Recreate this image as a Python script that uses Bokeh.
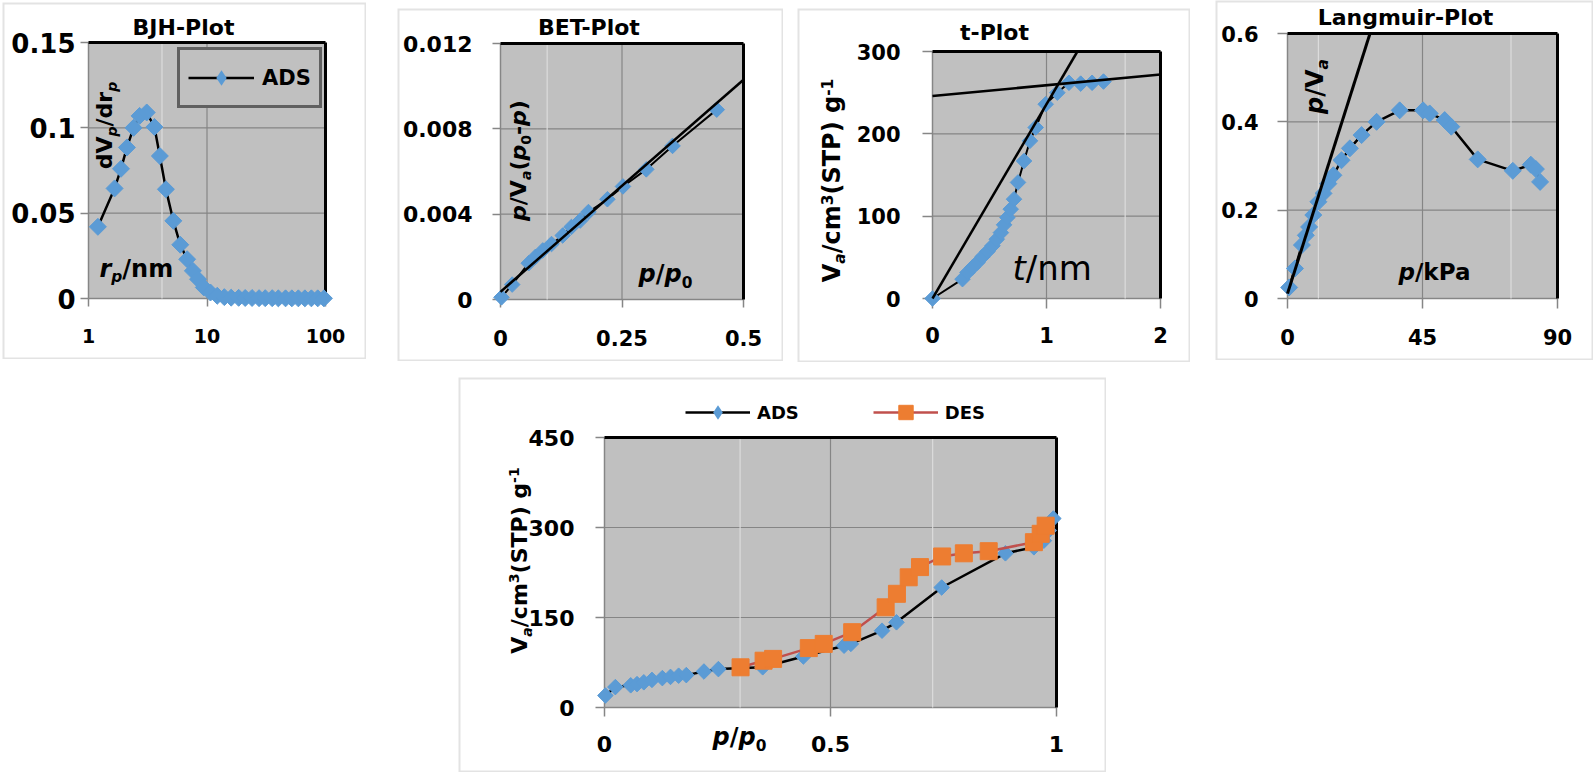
import math
from bokeh.plotting import figure
from bokeh.models import (Range1d, FixedTicker, CustomJSTickFormatter, Label, Arrow,
                          BoxAnnotation, Legend, LegendItem, Spacer)
from bokeh.layouts import row, column
from bokeh.embed import file_html
from bokeh.resources import INLINE

# ---------------- data ----------------
# BJH pore size distribution (ADS)
bjh_r = [1.2, 1.66, 1.88, 2.11, 2.4, 2.7, 3.1, 3.6, 4.0, 4.5, 5.2, 5.95, 6.8, 7.6, 8.4, 9.4,
         10.7, 12.2, 14, 16, 18.5, 21, 24, 27.5, 31, 35.5, 40, 46, 52, 59, 67, 76, 86, 97]
bjh_dv = [0.042, 0.0645, 0.076, 0.0885, 0.1, 0.107, 0.109, 0.1005, 0.0835, 0.064, 0.0455,
          0.0315, 0.023, 0.0162, 0.0113, 0.0065, 0.0035, 0.0016, 0.0008, 0.0005, 0.0004,
          0.0003, 0.0003, 0.0002, 0.0002, 0.0002, 0.0001, 0.0001, 0.0001, 0.0001, 0.0001,
          0.0001, 0.0001, 0.0001]

# BET plot
bet_x = [0.002, 0.024, 0.058, 0.072, 0.087, 0.105, 0.128, 0.146, 0.164, 0.181, 0.22, 0.252,
         0.30, 0.354, 0.445]
bet_y = [0.0001, 0.0007, 0.0017, 0.0020, 0.0023, 0.0026, 0.0030, 0.0034, 0.0037, 0.0041,
         0.0047, 0.0053, 0.0061, 0.0072, 0.0089]
bet_fit_x = [0.0, 0.5]
bet_fit_y = [0.00036, 0.0103]

# t-plot
t_t = [0.0, 0.263, 0.307, 0.35, 0.394, 0.438, 0.482, 0.526, 0.564, 0.6, 0.628, 0.657, 0.686,
       0.715, 0.75, 0.803, 0.855, 0.905, 0.993, 1.095, 1.197, 1.3, 1.4, 1.5]
t_v = [0, 23.5, 31.6, 37.7, 43.7, 50.6, 57, 64, 72, 80, 89.5, 98.4, 108.5, 120.6, 141, 167,
       191.5, 207.7, 236, 250, 262, 261, 262, 263.5]
t_fit1_x = [0.0, 1.271]
t_fit1_y = [0.0, 300.0]
t_fit2_x = [0.0, 2.0]
t_fit2_y = [246.0, 272.0]

# Langmuir plot
lang_p = [0.55, 2.5, 4.8, 6.1, 7.2, 8.6, 10.3, 12.0, 13.6, 15.3, 18.0, 20.8, 24.7, 29.7,
          37.4, 45.2, 47.4, 52.4, 54.6, 63.4, 75.1, 81.1, 82.8, 84.2]
lang_y = [0.025, 0.068, 0.121, 0.143, 0.162, 0.189, 0.219, 0.238, 0.26, 0.279, 0.313, 0.34,
          0.37, 0.4, 0.426, 0.426, 0.419, 0.404, 0.389, 0.315, 0.289, 0.303, 0.293, 0.264]
lang_fit_x = [0.0, 27.5]
lang_fit_y = [0.011, 0.6]

# Isotherm
ads_x = [0.002, 0.024, 0.058, 0.072, 0.087, 0.105, 0.128, 0.146, 0.164, 0.181, 0.22, 0.252,
         0.35, 0.44, 0.53, 0.545, 0.614, 0.646, 0.746, 0.887, 0.95, 0.972, 0.983, 0.993]
ads_y = [20, 34, 37, 39, 42, 46, 49, 51, 53, 54, 60, 64, 67, 85, 103, 106, 128, 142, 200,
         257, 267, 278, 295, 315]
des_x = [0.301, 0.352, 0.373, 0.452, 0.485, 0.548, 0.622, 0.647, 0.673, 0.698, 0.747, 0.795,
         0.85, 0.95, 0.965, 0.976]
des_y = [67, 78, 81, 99, 106, 125.5, 167, 189.5, 217, 234, 251.7, 257, 260.5, 275.5, 289.5,
         303]

# ---------------- style ----------------
FONT = "DejaVu Sans"
BG = "#c0c0c0"
GRID = "#858585"
AXIS = "#868686"
LIGHT = "#dcdcdc"
BLUE = "#5b9bd5"
ORANGE = "#ed7d31"
RED = "#c0504d"
PANEL_LINE = "#a3a3a3"
BASE_CORR = 0.38   # baseline correction (fraction of font size)

WB = {' ': 0.348, '.': 0.380, '/': 0.365, '(': 0.457, ')': 0.457, '-': 0.415,
      'A': 0.774, 'B': 0.762, 'D': 0.830, 'E': 0.683, 'H': 0.837, 'J': 0.372, 'L': 0.637,
      'P': 0.733, 'S': 0.720, 'T': 0.682, 'V': 0.774, 'a': 0.675, 'c': 0.593, 'd': 0.716,
      'g': 0.716, 'i': 0.343, 'k': 0.665, 'l': 0.343, 'm': 1.042, 'n': 0.712, 'o': 0.687,
      'p': 0.716, 'r': 0.493, 't': 0.478, 'u': 0.712}
for _d in "0123456789":
    WB[_d] = 0.696
WN = {'t': 0.392, '/': 0.337, 'n': 0.634, 'm': 0.974}


class Panel:
    """A figure whose frame fills the whole canvas; the plot area is a sub-rectangle."""

    def __init__(self, origin, w, h, area, xr, yr, xlog=False):
        self.ox, self.oy = origin
        self.w, self.h = w, h
        L, T, R, B = area
        self.xr, self.yr, self.xlog = xr, yr, xlog
        fx = (lambda v: math.log10(v)) if xlog else (lambda v: v)
        ix = (lambda v: 10 ** v) if xlog else (lambda v: v)
        a0, a1 = fx(xr[0]), fx(xr[1])
        ppx = (a1 - a0) / (R - L)
        self.fx0, self.fx1 = a0 - L * ppx, a1 + (w - R) * ppx
        ppy = (yr[1] - yr[0]) / (B - T)
        self.fy0, self.fy1 = yr[0] - (h - B) * ppy, yr[1] + T * ppy
        self.ix = ix
        self.p = figure(width=w, height=h, x_range=Range1d(ix(self.fx0), ix(self.fx1)),
                        y_range=Range1d(self.fy0, self.fy1),
                        x_axis_type="log" if xlog else "linear", output_backend="svg",
                        toolbar_location=None, title=None, min_border=0, min_border_left=0,
                        min_border_right=0, min_border_top=0, min_border_bottom=0,
                        background_fill_color="white", border_fill_color="white",
                        outline_line_color=None)
        self.p.xgrid.visible = False
        self.p.ygrid.visible = False
        # gray plot area
        self.p.add_layout(BoxAnnotation(left=xr[0], right=xr[1], bottom=yr[0], top=yr[1],
                                        fill_color=BG, fill_alpha=1, line_color=None,
                                        level="image"))
        # outer chart frame
        self.p.add_layout(BoxAnnotation(left=ix(self.fx0), right=ix(self.fx1),
                                        bottom=self.fy0, top=self.fy1, fill_alpha=0,
                                        line_color=PANEL_LINE, line_width=4,
                                        level="overlay"))

    def to_data(self, px, py):
        cx, cy = px - self.ox, py - self.oy
        x = self.fx0 + cx / self.w * (self.fx1 - self.fx0)
        y = self.fy1 - cy / self.h * (self.fy1 - self.fy0)
        return self.ix(x), y

    def seg(self, x0, y0, x1, y1, color, width, level="underlay"):
        self.p.add_layout(Arrow(end=None, x_start=x0, y_start=y0, x_end=x1, y_end=y1,
                                line_color=color, line_width=width, level=level))

    def axes(self, xt, yt, xfs, yfs, xso, yso, xto=8, yto=8, light=()):
        x0, x1 = self.xr
        y0, y1 = self.yr
        for t in xt:
            if t not in (x0, x1):
                self.seg(t, y0, t, y1, GRID, 1.2)
        for t in yt:
            if t not in (y0, y1):
                self.seg(x0, t, x1, t, GRID, 1.2)
        for t in light:
            self.seg(t, y0, t, y1, LIGHT, 1.2)
        self.seg(x0, y1, x1, y1, "black", 3)
        self.seg(x1, y0, x1, y1, "black", 3)
        xa, ya = self.p.xaxis[0], self.p.yaxis[0]
        xa.fixed_location = y0
        xa.bounds = (x0, x1)
        ya.fixed_location = x0
        ya.bounds = (y0, y1)
        for ax, ticks, fs, so, to in ((xa, xt, xfs, xso, xto), (ya, yt, yfs, yso, yto)):
            ax.ticker = FixedTicker(ticks=ticks)
            ax.formatter = CustomJSTickFormatter(code="return tick.toString();")
            ax.level = "underlay"
            ax.axis_line_color = AXIS
            ax.axis_line_width = 1.5
            ax.major_tick_line_color = AXIS
            ax.major_tick_line_width = 1.5
            ax.major_tick_in = 0
            ax.major_tick_out = to
            ax.minor_tick_line_color = None
            ax.major_label_text_font = FONT
            ax.major_label_text_font_style = "bold"
            ax.major_label_text_font_size = f"{fs}px"
            ax.major_label_text_color = "black"
            ax.major_label_standoff = so

    def rich(self, segs, px, py, size, angle=0.0, anchor="start", weight="bold"):
        wtab = WB if weight == "bold" else WN
        items = []
        total = 0.0
        for t, it, kind in segs:
            fs = size * 0.64 if kind in ("sub", "sup") else size
            wd = sum(wtab.get(c, 0.6) for c in t) * fs
            items.append((t, it, kind, fs, wd))
            total += wd
        u = -total / 2 if anchor == "center" else 0.0
        for t, it, kind, fs, wd in items:
            shift = 0.2 * size if kind == "sub" else (-0.38 * size if kind == "sup" else 0.0)
            shift -= BASE_CORR * fs
            if angle == 0:
                qx, qy = px + u, py + shift
            else:
                qx, qy = px + shift, py - u
            x, y = self.to_data(qx, qy)
            style = ("bold " if weight == "bold" else "") + ("italic" if it else "")
            style = style.strip() or "normal"
            self.p.add_layout(Label(x=x, y=y, text=t, text_font=FONT,
                                    text_font_size=f"{fs:.1f}px", text_font_style=style,
                                    text_align="left", text_baseline="alphabetic",
                                    angle=angle, text_color="black"))
            u += wd

    def title(self, text, cx, by):
        self.rich([(text, False, "n")], cx, by, 22, anchor="center")

    def diamonds(self, x, y, size):
        # legend proxy (hidden beneath the rotated squares)
        d = self.p.scatter(x, y, marker="diamond", size=size * 1.3, fill_color=BLUE,
                           line_color=None)
        self.p.scatter(x, y, marker="square", angle=math.pi / 4, size=size,
                       fill_color=BLUE, line_color=BLUE)
        return d


# ---------------- BJH ----------------
P1 = Panel((2, 2), 364, 357, (86, 40, 323, 296), (1, 100), (0, 0.15), xlog=True)
P1.axes([1, 10, 100], [0, 0.05, 0.1, 0.15], 19, 26, 22, 5, light=[4.17])
l1 = P1.p.line(bjh_r, bjh_dv, line_color="black", line_width=2.5)
s1 = P1.diamonds(bjh_r, bjh_dv, 12)
P1.p.add_layout(Legend(items=[LegendItem(label="ADS", renderers=[l1, s1])],
                       location=(175, 251), border_line_color="black", border_line_width=3,
                       background_fill_color=BG, background_fill_alpha=1, padding=8, margin=0,
                       glyph_width=66, glyph_height=39, label_height=39, label_standoff=8,
                       spacing=0, label_text_font=FONT, label_text_font_style="bold",
                       label_text_font_size="21px", label_text_color="black"))
P1.title("BJH-Plot", 183, 35)
P1.rich([("dV", False, "n"), ("p", True, "sub"), ("/dr", False, "n"), ("p", True, "sub")],
        112, 125, 22, angle=math.pi / 2, anchor="center")
P1.rich([("r", True, "n"), ("p", True, "sub"), ("/nm", False, "n")], 99, 278, 24)

# ---------------- BET ----------------
P2 = Panel((397, 8), 386, 353, (103, 35, 346, 291), (0, 0.5), (0, 0.012))
P2.axes([0, 0.25, 0.5], [0, 0.004, 0.008, 0.012], 21, 22, 22, 20, light=[0.096])
P2.p.line(bet_x, bet_y, line_color="black", line_width=2)
P2.diamonds(bet_x, bet_y, 11)
P2.p.line(bet_fit_x, bet_fit_y, line_color="black", line_width=2.5)
P2.title("BET-Plot", 590, 35)
P2.rich([("p", True, "n"), ("/V", False, "n"), ("a", True, "sub"), ("(", False, "n"),
         ("p", True, "n"), ("0", False, "sub"), ("-", False, "n"), ("p", True, "n"),
         (")", False, "n")], 526, 160, 22, angle=math.pi / 2, anchor="center")
P2.rich([("p", True, "n"), ("/", False, "n"), ("p", True, "n"), ("0", False, "sub")],
        638, 283, 24)

# ---------------- t-plot ----------------
P3 = Panel((797, 8), 393, 354, (135, 43, 363, 290), (0, 2), (0, 300))
P3.axes([0, 1, 2], [0, 100, 200, 300], 21, 21, 18, 22, xto=10, yto=10, light=[1.69])
P3.p.line(t_t, t_v, line_color="black", line_width=2)
P3.diamonds(t_t, t_v, 11)
P3.p.line(t_fit1_x, t_fit1_y, line_color="black", line_width=2.5)
P3.p.line(t_fit2_x, t_fit2_y, line_color="black", line_width=2.5)
P3.title("t-Plot", 994, 40)
P3.rich([("V", False, "n"), ("a", True, "sub"), ("/cm", False, "n"), ("3", False, "sup"),
         ("(STP) g", False, "n"), ("-1", False, "sup")],
        841, 180, 24, angle=math.pi / 2, anchor="center")
P3.rich([("t", True, "n"), ("/nm", False, "n")], 1012, 280, 34, weight="normal")

# ---------------- Langmuir ----------------
P4 = Panel((1215, 0), 378, 360, (72, 33, 342, 298), (0, 90), (0, 0.6))
P4.axes([0, 45, 90], [0, 0.2, 0.4, 0.6], 21, 21, 20, 19, xto=10, yto=10, light=[10.3, 74.5])
P4.p.line(lang_p, lang_y, line_color="black", line_width=2.5)
P4.diamonds(lang_p, lang_y, 12)
P4.p.line(lang_fit_x, lang_fit_y, line_color="black", line_width=3)
P4.title("Langmuir-Plot", 1405, 25)
P4.rich([("p", True, "n"), ("/V", False, "n"), ("a", True, "sub")],
        1324, 86, 24, angle=math.pi / 2, anchor="center")
P4.rich([("p", True, "n"), ("/kPa", False, "n")], 1398, 280, 23)

# ---------------- Isotherm ----------------
P5 = Panel((458, 377), 648, 395, (146, 60, 598, 330), (0, 1), (0, 450))
P5.axes([0, 0.5, 1], [0, 150, 300, 450], 22, 22, 19, 21, xto=9, yto=9, light=[0.3, 0.726])
la = P5.p.line(ads_x, ads_y, line_color="black", line_width=2.5)
sa = P5.diamonds(ads_x, ads_y, 11)
ld = P5.p.line(des_x, des_y, line_color=RED, line_width=2.5)
sd = P5.p.scatter(des_x, des_y, marker="square", size=17, fill_color=ORANGE,
                  line_color=ORANGE)
P5.p.add_layout(Legend(items=[LegendItem(label="ADS", renderers=[la, sa]),
                              LegendItem(label="DES", renderers=[ld, sd])],
                       location=(227, 342), orientation="horizontal", border_line_color=None,
                       background_fill_alpha=0, padding=0, margin=0, glyph_width=65,
                       glyph_height=36, label_height=36, label_standoff=7, spacing=74,
                       label_text_font=FONT, label_text_font_style="bold",
                       label_text_font_size="18px", label_text_color="black"))
P5.rich([("V", False, "n"), ("a", True, "sub"), ("/cm", False, "n"), ("3", False, "sup"),
         ("(STP) g", False, "n"), ("-1", False, "sup")],
        527, 560, 22, angle=math.pi / 2, anchor="center")
P5.rich([("p", True, "n"), ("/", False, "n"), ("p", True, "n"), ("0", False, "sub")],
        712, 746, 24)

# ---------------- layout ----------------
row1 = row(Spacer(width=2), column(Spacer(height=2), P1.p), Spacer(width=31),
           column(Spacer(height=8), P2.p), Spacer(width=14), column(Spacer(height=8), P3.p),
           Spacer(width=25), column(Spacer(height=0), P4.p))
row2 = row(Spacer(width=458), P5.p)
root = column(row1, Spacer(height=15), row2,
              styles={"position": "absolute", "left": "0px", "top": "0px"})

open("out.html", "w").write(file_html(root, INLINE))
